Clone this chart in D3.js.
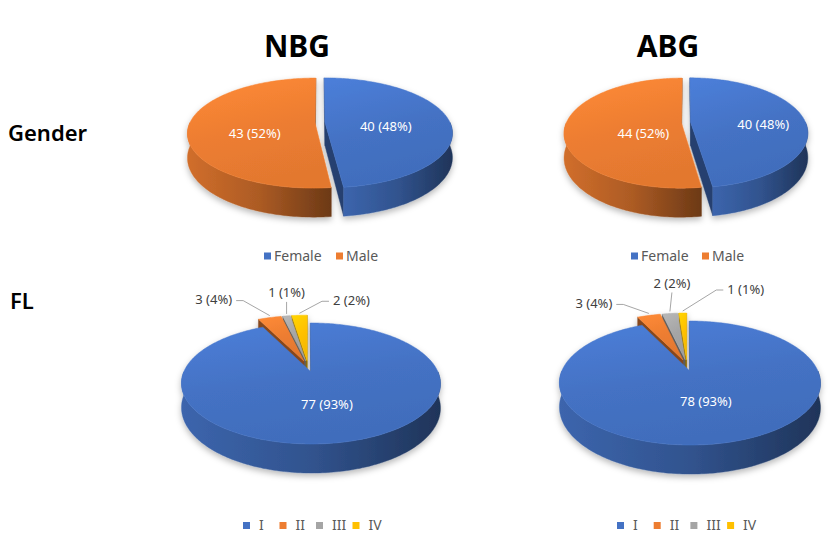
<!DOCTYPE html>
<html>
<head>
<meta charset="utf-8">
<style>
body{ margin:0; background:#fff; }
svg{ display:block; font-family:"Noto Sans","Open Sans",sans-serif; }
.title{ font-weight:bold; font-size:30px; fill:#000; }
.rowlabel{ font-weight:600; font-size:22px; fill:#000; }
.inlabel{ font-size:13px; fill:#fff; }
.outlabel{ font-size:13px; fill:#404040; }
.leader{ fill:none; stroke:#a6a6a6; stroke-width:1px; }
.legend text{ font-size:14px; fill:#595959; }
</style>
</head>
<body>
<script src="https://cdnjs.cloudflare.com/ajax/libs/d3/7.8.5/d3.min.js"></script>
<script>
  var WIDTH = 829;
  var HEIGHT = 543;

  // data
  var groups = ["NBG", "ABG"];
  var rows = ["Gender", "FL"];
  var genderCats = ["Female", "Male"];
  var genderNBG = [40, 43];
  var genderABG = [40, 44];
  var flCats = ["I", "II", "III", "IV"];
  var flNBG = [77, 3, 1, 2];
  var flABG = [78, 3, 2, 1];

  var COLORS = ["#4472C4", "#ED7D31", "#A5A5A5", "#FFC000"];

  // layout: ellipse of each 3d pie (p = perspective, hh = thickness, e = explode)
  var pieBoxes = {
    genderNBG: {cx:320, cy:122.5, rx:125, ry:53, hh:23.5, p:0.19, e:0.04},
    genderABG: {cx:686, cy:122.5, rx:115, ry:53, hh:23.5, p:0.19, e:0.04},
    flNBG:     {cx:308, cy:366.2, rx:124.7, ry:56.1, hh:23, p:0.19, e:0.1},
    flABG:     {cx:687, cy:365.3, rx:125.7, ry:57.5, hh:23, p:0.19, e:0.1}
  };
  // inside labels: r along mid angle; outside labels: dx,dy from rim
  var labelSpots = {
    genderNBG: [{r:0.49, dy:6}, {r:0.48, dy:9}],
    genderABG: [{r:0.64, dy:5}, {r:0.33, dy:9}],
    flNBG: [{r:0.5, dy:1}, {dx:-56, dy:-18}, {dx:0, dy:-23}, {dx:52, dy:-15}],
    flABG: [{r:0.5, dy:-2}, {dx:-55, dy:-12}, {dx:2, dy:-30}, {dx:63, dy:-24}]
  };
  var legendSpots = {
    genderNBG: {x:264, y:256, slot:72, textX:10},
    genderABG: {x:631, y:256, slot:71, textX:10},
    flNBG: {x:243, y:525.5, slot:36.5, textX:16},
    flABG: {x:617, y:525.5, slot:36.7, textX:16}
  };

  var svg = d3.select("body").append("svg")
    .attr("width", WIDTH)
    .attr("height", HEIGHT);

  var defs = svg.append("defs");
  var shadow = defs.append("filter").attr("id", "shadow")
    .attr("x", "-10%").attr("y", "-10%").attr("width", "120%").attr("height", "140%");
  shadow.append("feDropShadow")
    .attr("dx", 0).attr("dy", 3).attr("stdDeviation", 3)
    .attr("flood-color", "#000").attr("flood-opacity", 0.28);

  var gradCount = 0;
  function hGradient(x1, x2, stops){
    var id = "g" + (gradCount++);
    var g = defs.append("linearGradient").attr("id", id)
      .attr("gradientUnits", "userSpaceOnUse")
      .attr("x1", x1).attr("x2", x2).attr("y1", 0).attr("y2", 0);
    stops.forEach(function(s){
      g.append("stop").attr("offset", s[0]).attr("stop-color", s[1]);
    });
    return "url(#" + id + ")";
  }
  function topGradient(c){
    var id = "g" + (gradCount++);
    var g = defs.append("linearGradient").attr("id", id)
      .attr("x1", 0).attr("y1", 0).attr("x2", 0.3).attr("y2", 1);
    g.append("stop").attr("offset", 0).attr("stop-color", d3.color(c).brighter(0.3));
    g.append("stop").attr("offset", 0.55).attr("stop-color", c);
    g.append("stop").attr("offset", 1).attr("stop-color", d3.color(c).darker(0.12));
    return "url(#" + id + ")";
  }

  // titles and row labels
  svg.append("text").attr("class", "title").attr("x", 297).attr("y", 57)
    .attr("text-anchor", "middle").text(groups[0]);
  svg.append("text").attr("class", "title").attr("x", 668).attr("y", 57)
    .attr("text-anchor", "middle").text(groups[1]);
  svg.append("text").attr("class", "rowlabel").attr("x", 8).attr("y", 141).text(rows[0]);
  svg.append("text").attr("class", "rowlabel").attr("x", 10).attr("y", 309).text(rows[1]);

  drawPie("genderNBG", genderNBG);
  drawPie("genderABG", genderABG);
  drawPie("flNBG", flNBG);
  drawPie("flABG", flABG);

  drawLegend("genderNBG", genderCats);
  drawLegend("genderABG", genderCats);
  drawLegend("flNBG", flCats);
  drawLegend("flABG", flCats);

  function drawPie(key, vals){
    var L = pieBoxes[key];
    var total = d3.sum(vals);
    var arcs = d3.pie().sort(null).value(function(d){ return d; })(vals);
    var line = d3.line();

    function proj(X, Y, Z){
      var w = 1 + L.p * Y;
      return [L.cx + L.rx * X / w, L.cy + (-L.ry * Y + L.hh * Z) / w];
    }
    function samples(t0, t1){
      var n = Math.max(2, Math.ceil((t1 - t0) / (Math.PI / 180)));
      return d3.range(n + 1).map(function(k){ return t0 + (t1 - t0) * k / n; });
    }

    var slices = arcs.map(function(a, i){
      var m = (a.startAngle + a.endAngle) / 2;
      return {i:i, a0:a.startAngle, a1:a.endAngle, m:m,
        ox:L.e * Math.sin(m), oy:L.e * Math.cos(m), color:COLORS[i], value:vals[i]};
    });
    function rim(s, t, Z){ return proj(s.ox + Math.sin(t), s.oy + Math.cos(t), Z); }
    function ctr(s, Z){ return proj(s.ox, s.oy, Z); }

    var walls = [];
    slices.forEach(function(s){
      // outer (front) wall
      var t0 = Math.max(s.a0, Math.PI / 2), t1 = Math.min(s.a1, 3 * Math.PI / 2);
      if (t1 > t0){
        var ts = samples(t0, t1);
        var pts = ts.map(function(t){ return rim(s, t, 0); })
          .concat(ts.slice().reverse().map(function(t){ return rim(s, t, 1); }));
        var xs = d3.extent(pts, function(p){ return p[0]; });
        var c = d3.color(s.color);
        walls.push({d: line(pts) + "Z",
          depth: d3.mean(ts, function(t){ return s.oy + Math.cos(t); }),
          fill: hGradient(xs[0], xs[1], [[0, c.darker(0.35)], [0.5, c.darker(0.9)], [1, c.darker(2.2)]])});
      }
      // cut walls
      [[s.a0, true], [s.a1, false]].forEach(function(w){
        var t = w[0], sn = Math.sin(t), cs = Math.cos(t);
        var dot = w[1] ? s.ox * cs - (1 / L.p + s.oy) * sn
                       : -s.ox * cs + (1 / L.p + s.oy) * sn;
        if (dot <= 0) return;
        var pts = [ctr(s, 0), rim(s, t, 0), rim(s, t, 1), ctr(s, 1)];
        walls.push({d: line(pts) + "Z", depth: s.oy + 0.5 * cs,
          fill: d3.color(s.color).darker(1.6)});
      });
    });
    walls.sort(function(a, b){ return b.depth - a.depth; });

    var g = svg.append("g").attr("class", "pie").attr("filter", "url(#shadow)");
    g.selectAll("path.wall")
      .data(walls)
      .enter()
      .append("path")
        .attr("class", "wall")
        .attr("d", function(d){ return d.d; })
        .attr("fill", function(d){ return d.fill; })
        .attr("stroke", function(d){ return d.fill; })
        .attr("stroke-width", 0.4);

    g.selectAll("path.top")
      .data(slices)
      .enter()
      .append("path")
        .attr("class", "top")
        .attr("d", function(s){
          var pts = [ctr(s, 0)].concat(samples(s.a0, s.a1).map(function(t){ return rim(s, t, 0); }));
          return line(pts) + "Z";
        })
        .attr("fill", function(s){ return topGradient(s.color); })
        .attr("stroke", function(s){ return d3.color(s.color).brighter(0.1); })
        .attr("stroke-width", 0.5);

    // labels
    var spots = labelSpots[key];
    slices.forEach(function(s){
      var sp = spots[s.i];
      var txt = s.value + " (" + Math.round(s.value / total * 100) + "%)";
      if (sp.r !== undefined){
        var p = proj(s.ox + sp.r * Math.sin(s.m), s.oy + sp.r * Math.cos(s.m), 0);
        svg.append("text").attr("class", "inlabel")
          .attr("x", p[0]).attr("y", p[1] + sp.dy)
          .attr("dy", "0.35em").attr("text-anchor", "middle").text(txt);
      } else {
        var r0 = rim(s, s.m, 0);
        var lx = r0[0] + sp.dx, ly = r0[1] + sp.dy;
        var t = svg.append("text").attr("class", "outlabel")
          .attr("x", lx).attr("y", ly)
          .attr("dy", "0.35em").attr("text-anchor", "middle").text(txt);
        var tw = t.node().getComputedTextLength();
        var path;
        if (Math.abs(sp.dx) < 20){
          path = [[lx, ly + 9], [r0[0], r0[1] - 2]];
        } else {
          var sign = sp.dx < 0 ? 1 : -1;
          var ex = lx + sign * (tw / 2 + 4);
          path = [[ex, ly + 1], [ex + sign * 7, ly + 1], [r0[0], r0[1] - 2]];
        }
        svg.insert("path", "text").attr("class", "leader").attr("d", line(path));
      }
    });
  }

  function drawLegend(key, cats){
    var sp = legendSpots[key];
    var g = svg.append("g").attr("class", "legend")
      .attr("transform", "translate(" + sp.x + "," + sp.y + ")");
    var items = g.selectAll("g.item")
      .data(cats)
      .enter()
      .append("g")
        .attr("class", "item")
        .attr("transform", function(d, i){ return "translate(" + (i * sp.slot) + ",0)"; });
    items.append("rect")
      .attr("x", 0).attr("y", -3.5).attr("width", 7).attr("height", 7)
      .attr("fill", function(d, i){ return COLORS[i]; });
    items.append("text")
      .attr("x", sp.textX).attr("dy", "0.35em")
      .text(function(d){ return d; });
  }
</script>
</body>
</html>
